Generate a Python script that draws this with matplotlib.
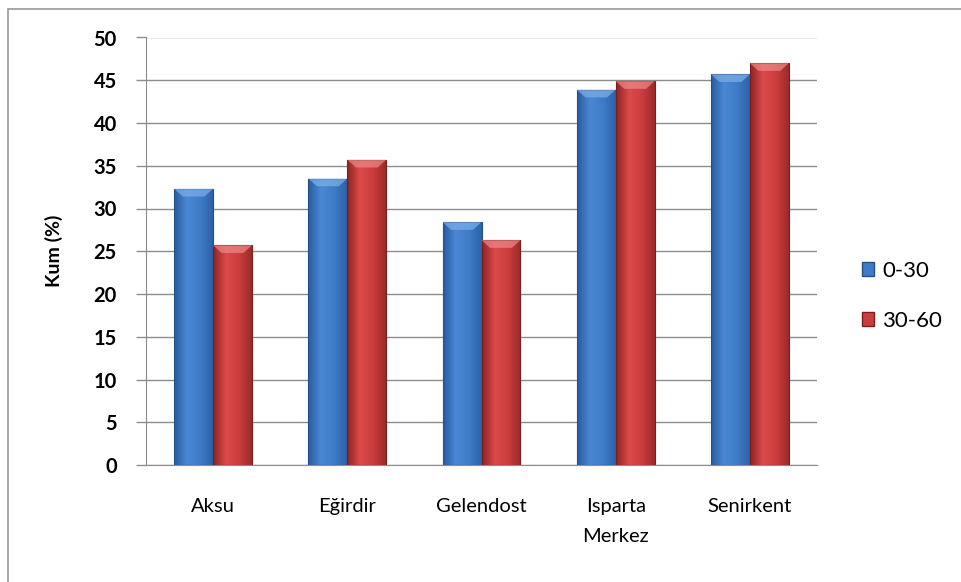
import numpy as np
import matplotlib.pyplot as plt
from matplotlib.patches import Rectangle, Polygon
from matplotlib.colors import LinearSegmentedColormap

# İlçelere göre kum oranları (%)
ilceler = ["Aksu", "Eğirdir", "Gelendost", "Isparta\nMerkez", "Senirkent"]
derinlik_0_30 = [32.3, 33.5, 28.4, 43.9, 45.7]
derinlik_30_60 = [25.7, 35.7, 26.3, 44.9, 47.0]
seriler = ["0-30", "30-60"]

plt.rcParams['font.family'] = ['Lato', 'DejaVu Sans']

fig = plt.figure(figsize=(9.61, 5.82), dpi=100)
ax = fig.add_axes([146 / 961, 1 - 465 / 582, 671 / 961, 427.5 / 582])

# Çerçeve
fig.patches.append(Rectangle((8 / 961, -0.1), 1.2, 1 - 9 / 582 + 0.1,
                             transform=fig.transFigure, fill=False,
                             edgecolor="#9a9a9a", linewidth=1.2))

renkler = {
    "0-30": ["#2a5c9e", "#4a88d4", "#3f7cc8", "#2d62a8"],
    "30-60": ["#8e2424", "#dc4a4a", "#cc3d3d", "#9c2a2a"],
}
ust_renk = {"0-30": "#7fb0ea", "30-60": "#ef8a8a"}
kenar = {"0-30": "#244f88", "30-60": "#7a1e1e"}

x = np.arange(len(ilceler))
w = 0.29
grad = np.linspace(0, 1, 64).reshape(1, -1)


def cubuk_ciz(xs, degerler, seri):
    cmap = LinearSegmentedColormap.from_list(seri, renkler[seri])
    for xc, v in zip(xs, degerler):
        x0 = xc - w / 2
        rect = Rectangle((x0, 0), w, v, facecolor="none",
                         edgecolor=kenar[seri], linewidth=0.8, zorder=3)
        ax.add_patch(rect)
        im = ax.imshow(grad, cmap=cmap, extent=(x0, x0 + w, 0, v),
                       aspect="auto", zorder=2, interpolation="bicubic")
        im.set_clip_path(rect)
        # üst kenardaki parlak eğim
        h = 0.9
        d = w * 0.22
        ax.add_patch(Polygon([(x0, v), (x0 + w, v), (x0 + w - d, v - h),
                              (x0 + d, v - h)], closed=True,
                             facecolor=ust_renk[seri], edgecolor="none",
                             alpha=0.7, zorder=3))


cubuk_ciz(x - w / 2, derinlik_0_30, "0-30")
cubuk_ciz(x + w / 2, derinlik_30_60, "30-60")

ax.set_xlim(-0.5, len(ilceler) - 0.5)
ax.set_ylim(0, 50)
ax.set_yticks(np.arange(0, 51, 5))
ax.set_xticks(x)
ax.set_xticklabels(ilceler, fontsize=14.5, linespacing=1.9)
ax.tick_params(axis="x", length=0, pad=24)
ax.tick_params(axis="y", length=7, color="#8c8c8c", width=1, pad=14,
               labelsize=14.5)
for t in ax.get_yticklabels():
    t.set_fontweight("bold")

ax.grid(axis="y", color="#8c8c8c", linewidth=1, zorder=0)
ax.set_axisbelow(True)
for s in ["top", "right"]:
    ax.spines[s].set_visible(False)
ax.spines["left"].set_color("#8c8c8c")
ax.spines["bottom"].set_color("#8c8c8c")

ax.set_ylabel("Kum (%)", fontsize=14, fontweight="bold", labelpad=22)

handles = [Rectangle((0, 0), 1, 1, facecolor=renkler[s][2],
                     edgecolor=kenar[s]) for s in seriler]
fig.legend(handles, seriler, loc="center left",
           bbox_to_anchor=(842 / 961, 1 - 296 / 582), frameon=False,
           fontsize=16, handlelength=0.55, handleheight=0.55,
           handletextpad=0.35, labelspacing=1.35)

fig.savefig("out.png", dpi=100)
